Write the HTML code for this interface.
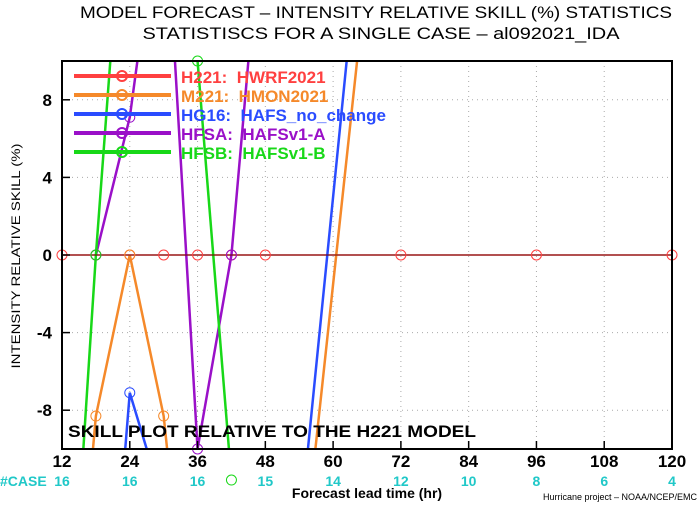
<!DOCTYPE html>
<html><head><meta charset="utf-8"><style>
html,body{margin:0;padding:0;background:#fff;overflow:hidden;width:700px;height:506px;}
svg{display:block;font-family:"Liberation Sans",sans-serif;}
</style></head><body>
<svg id="chart" width="700" height="506" viewBox="0 0 700 506">
<text x="376" y="18" font-size="17" text-anchor="middle" textLength="592" lengthAdjust="spacingAndGlyphs">MODEL FORECAST – INTENSITY RELATIVE SKILL (%) STATISTICS</text>
<text x="381" y="39" font-size="17" text-anchor="middle" textLength="477" lengthAdjust="spacingAndGlyphs">STATISTISCS FOR A SINGLE CASE – al092021_IDA</text>
<defs><clipPath id="pc"><rect x="62" y="61" width="610" height="388"/></clipPath></defs>
<g id="grid"></g>
<g id="series" clip-path="url(#pc)"></g>
<g id="markers"></g>
<rect x="62" y="61" width="610" height="388" fill="none" stroke="#000" stroke-width="2"/>
<g id="axes"></g>
<g id="legend"></g>
<text x="68" y="437" font-size="17" font-weight="bold" textLength="408" lengthAdjust="spacingAndGlyphs">SKILL PLOT RELATIVE TO THE H221 MODEL</text>
<text x="20" y="256" font-size="12" text-anchor="middle" transform="rotate(-90 20 256)" textLength="225" lengthAdjust="spacingAndGlyphs">INTENSITY RELATIVE SKILL (%)</text>
<text x="367" y="498" font-size="14" font-weight="bold" text-anchor="middle">Forecast lead time (hr)</text>
<text x="697" y="500" font-size="9" text-anchor="end">Hurricane project – NOAA/NCEP/EMC</text>
<text x="0" y="486" font-size="14" font-weight="bold" fill="#20c8c8">#CASE</text>
</svg>
<script>
const hours=[12,18,24,30,36,42,48,72,96,120];
const h221=[0,0,0,0,0,0,0,0,0,0];
const m221=[-28,-8.3,0,-8.3,-25,-30,-34,31,null,null];
const hg16=[null,-28.7,-7.1,-12.9,-25,-30,-32,38,null,null];
const hfsa=[null,0,7.1,20,-10,0,20,null,null,null];
const hfsb=[-27,0,23.5,null,10,-11.6,null,null,null,null];
const xTicks=[12,24,36,48,60,72,84,96,108,120];
const yTicks=[-8,-4,0,4,8];
const caseHours=[12,24,36,48,60,72,84,96,108,120];
const caseCounts=[16,16,16,15,14,12,10,8,6,4];
const legendCodes=["H221:","M221:","HG16:","HFSA:","HFSB:"];
const legendNames=["HWRF2021","HMON2021","HAFS_no_change","HAFSv1-A","HAFSv1-B"];
const colors=["#ff4040","#f5892a","#2a4cff","#9a10c8","#18d818"];
const seriesNames=["h221","m221","hg16","hfsa","hfsb"];
const allSeries=[h221,m221,hg16,hfsa,hfsb];
const NS="http://www.w3.org/2000/svg";
const X=h=>62+(h-12)*610/108;
const Y=v=>255-v*19.4;
function mk(tag,attrs,parent){const e=document.createElementNS(NS,tag);for(const k in attrs)e.setAttribute(k,attrs[k]);parent.appendChild(e);return e;}
const grid=document.getElementById('grid'),axes=document.getElementById('axes'),ser=document.getElementById('series'),mar=document.getElementById('markers'),leg=document.getElementById('legend'),svg=document.getElementById('chart');
xTicks.forEach(t=>{
 const g=mk('line',{x1:X(t),x2:X(t),y1:61,y2:449,stroke:'#aaa','stroke-dasharray':'1,4','stroke-width':1},grid);
 
 
 const tk=mk('line',{x1:X(t),x2:X(t),y1:441,y2:449,stroke:'#000','stroke-width':1.5},axes);
 
 
 const tx=mk('text',{x:X(t),y:467,'font-size':17,'font-weight':'bold','text-anchor':'middle'},axes);
 tx.textContent=t;
 
 
});
yTicks.forEach(t=>{
 if(t!==0){const g=mk('line',{x1:62,x2:672,y1:Y(t),y2:Y(t),stroke:'#aaa','stroke-dasharray':'1,4','stroke-width':1},grid);
 
 }
 const tk=mk('line',{x1:62,x2:70,y1:Y(t),y2:Y(t),stroke:'#000','stroke-width':1.5},axes);
 
 
 const tx=mk('text',{x:52,y:Y(t)+6,'font-size':17,'font-weight':'bold','text-anchor':'end'},axes);
 tx.textContent=t;
 
 
});
caseHours.forEach((h,i)=>{
 const t=mk('text',{x:X(h),y:486,'font-size':14,'font-weight':'bold','fill':'#20c8c8','text-anchor':'middle'},svg);
 t.textContent=caseCounts[i];
 
 
});
allSeries.forEach((s,si)=>{
 let segs=[],cur=[];
 s.forEach((v,i)=>{if(v===null){if(cur.length)segs.push(cur);cur=[];}else cur.push(X(hours[i])+','+Y(v));});
 if(cur.length)segs.push(cur);
 segs.forEach(sg=>{
  const p=mk('polyline',{points:sg.join(' '),fill:'none',stroke:colors[si],'stroke-width':si===0?1.5:2.5},ser);
  
  
 });
 s.forEach((v,i)=>{
  if(v===null||v>10.5||v<-12)return;
  const c=mk('circle',{cx:X(hours[i]),cy:Y(v),r:5,fill:'none',stroke:colors[si],'stroke-width':1},mar);
  
  
 });
});
const zl=mk('line',{x1:62,x2:672,y1:Y(0),y2:Y(0),stroke:'#600','stroke-width':1},ser);


legendCodes.forEach((c,i)=>{
 const y=76+i*19;
 const l=mk('line',{x1:74,x2:171,y1:y,y2:y,stroke:colors[i],'stroke-width':4},leg);
 
 
 const m=mk('circle',{cx:122,cy:y,r:5,fill:'none',stroke:colors[i],'stroke-width':2},leg);
 
 
 const t=mk('text',{x:181,y:y+7,'font-size':17,'font-weight':'bold',fill:colors[i]},leg);
 t.textContent=c+'  '+legendNames[i];
 t.style.whiteSpace='pre';
 
 
});
</script>
</body></html>
